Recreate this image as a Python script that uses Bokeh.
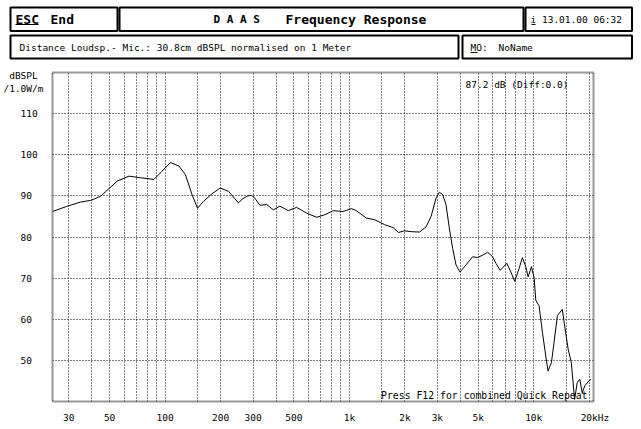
from bokeh.plotting import figure
from bokeh.models import Range1d, FixedTicker, Label
from bokeh.layouts import column
from bokeh.embed import file_html
from bokeh.resources import INLINE

# ---- data ----
freq_hz = [24.5, 29.5, 34.8, 39.5, 44.7, 55, 63.7, 73.6, 86.9, 96.3, 106.9, 118.6,
           128.8, 140, 150, 161.8, 179.5, 199, 221, 250, 262, 280, 295, 305,
           327, 356, 387, 420, 466, 517, 586, 664, 735, 816, 925, 1026, 1091,
           1236, 1371, 1552, 1722, 1848, 1991, 2163, 2399, 2608, 2774, 2953,
           3078, 3208, 3342, 3483, 3634, 3788, 3982, 4288, 4664, 4963, 5284,
           5623, 5984, 6237, 6577, 7145, 7514, 7889, 8323, 8680, 9053, 9325,
           9727, 10060, 10260, 10690, 11150, 11620, 11960, 12480, 12890, 13440,
           14290, 14890, 15380, 15990, 16660, 17220, 17780, 18320, 18920, 19900,
           20470]
spl_db = [86.2, 87.5, 88.5, 88.9, 89.9, 93.6, 94.8, 94.4, 94.0, 96.0, 98.1, 97.3,
          95.2, 90.3, 87.0, 88.7, 90.5, 91.9, 91.1, 88.3, 89.2, 90.0, 90.1, 89.6,
          87.7, 87.9, 86.6, 87.5, 86.4, 87.2, 85.8, 84.8, 85.4, 86.4, 86.2, 86.9, 86.4,
          84.6, 84.2, 83.0, 82.3, 81.1, 81.5, 81.3, 81.2, 82.5, 85.0, 89.5,
          90.9, 90.3, 87.9, 82.2, 77.2, 73.2, 71.5, 73.2, 75.2, 75.0, 75.6,
          76.3, 75.2, 73.6, 71.9, 73.6, 71.5, 69.2, 72.3, 75.0, 72.8, 70.3,
          72.8, 69.9, 64.6, 63.3, 56.8, 51.1, 47.4, 49.5, 54.4, 60.9,
          62.4, 56.8, 52.7, 49.5, 40.5, 44.6, 45.4, 42.1, 43.8, 45.0,
          45.4]

x_tick_values = [30, 50, 100, 200, 300, 500, 1000, 2000, 3000, 5000, 10000, 20000]
x_tick_labels = ["30", "50", "100", "200", "300", "500", "1k", "2k", "3k", "5k", "10k",
                 "\u00a0\u00a020kHz"]
x_grid_values = [30, 40, 50, 60, 70, 80, 90, 100, 150, 200, 300, 400, 500, 600, 700,
                 800, 900, 1000, 1500, 2000, 3000, 4000, 5000, 6000, 7000, 8000,
                 9000, 10000, 15000, 20000]
y_grid_values = [50, 60, 70, 80, 90, 100, 110]
y_tick_values = [50, 60, 70, 80, 90, 100, 110, 117.6]
y_tick_labels = ["50\u00a0\u00a0", "60\u00a0\u00a0", "70\u00a0\u00a0", "80\u00a0\u00a0",
                 "90\u00a0\u00a0", "100\u00a0", "110\u00a0", "dBSPL\u00a0\n/1.0W/m"]

MONO = "DejaVu Sans Mono"

# ---- header (pixel coordinates of the page) ----
header = figure(width=641, height=64, x_range=Range1d(0, 641), y_range=Range1d(64, 0),
                toolbar_location=None, output_backend="svg", min_border=0,
                x_axis_location=None, y_axis_location=None)
header.grid.visible = False
header.outline_line_color = None
header.quad(left=[10, 119, 525, 10, 462], right=[117, 523, 631.5, 458, 631.5],
            top=[7, 7, 7, 35, 35], bottom=[30.5, 30.5, 30.5, 58, 58],
            fill_color=None, line_color="black", line_width=2)
header.segment(x0=[15, 531, 470], y0=[24, 24, 52], x1=[38, 535, 477], y1=[24, 24, 52],
               line_color="black", line_width=1)


def hlabel(fig, x, y, text, size="9.5px", bold=False, align="left"):
    fig.add_layout(Label(x=x, y=y, text=text, text_font=MONO, text_font_size=size,
                         text_font_style="bold" if bold else "normal",
                         text_baseline="middle", text_align=align, text_color="black"))


hlabel(header, 15, 18.5, "ESC", "13px", True)
hlabel(header, 50, 18.5, "End", "13px", True)
hlabel(header, 213, 18.5, "D A A S", "11px", True)
hlabel(header, 285, 18.5, "Frequency Response", "13px", True)
hlabel(header, 530, 18.5, "i 13.01.00 06:32")
hlabel(header, 19, 46.5, "Distance Loudsp.- Mic.: 30.8cm dBSPL normalised on 1 Meter")
hlabel(header, 470, 46.5, "MO:")
hlabel(header, 498, 46.5, "NoName")

# ---- main plot ----
p = figure(width=641, height=365, x_axis_type="log",
           x_range=Range1d(24.5, 21100), y_range=Range1d(40, 120),
           toolbar_location=None, output_backend="svg",
           min_border_left=50, min_border_right=48, min_border_top=8, min_border_bottom=28)
p.background_fill_color = "white"
p.border_fill_color = "white"
p.outline_line_color = "#333333"
p.outline_line_width = 2
p.outline_line_dash = "1 1"

for f in (header, p):
    try:
        f.frame_align = False
    except Exception:
        pass

p.xaxis.ticker = FixedTicker(ticks=x_tick_values)
p.xaxis.major_label_overrides = {v: l for v, l in zip(x_tick_values, x_tick_labels)}
p.yaxis.ticker = FixedTicker(ticks=y_tick_values)
p.yaxis.major_label_overrides = {v: l for v, l in zip(y_tick_values, y_tick_labels)}
p.xgrid.ticker = FixedTicker(ticks=x_grid_values)
p.ygrid.ticker = FixedTicker(ticks=y_grid_values)
for g in (p.xgrid, p.ygrid):
    g.grid_line_color = "black"
    g.grid_line_dash = "1 2"
    g.grid_line_width = 1
for ax in (p.xaxis, p.yaxis):
    ax.axis_line_color = None
    ax.major_tick_line_color = None
    ax.minor_tick_line_color = None
    ax.major_label_text_font = MONO
    ax.major_label_text_font_size = "9.5px"
    ax.major_label_text_color = "black"
p.xaxis.major_label_standoff = 4
p.yaxis.major_label_standoff = 3

p.line(freq_hz, spl_db, line_color="black", line_width=1)

p.add_layout(Label(x=21100, y=120, x_offset=-25, y_offset=-12, text="87.2 dB (Diff:0.0)",
                   text_font=MONO, text_font_size="9.5px", text_align="right",
                   text_baseline="middle", text_color="black"))
p.add_layout(Label(x=21100, y=40, x_offset=-6, y_offset=1,
                   text="Press F12 for combined Quick Repeat",
                   text_font=MONO, text_font_size="9.8px", text_align="right",
                   text_baseline="bottom", text_color="black"))

layout = column(header, p, spacing=0)
open("out.html", "w").write(file_html(layout, INLINE))
